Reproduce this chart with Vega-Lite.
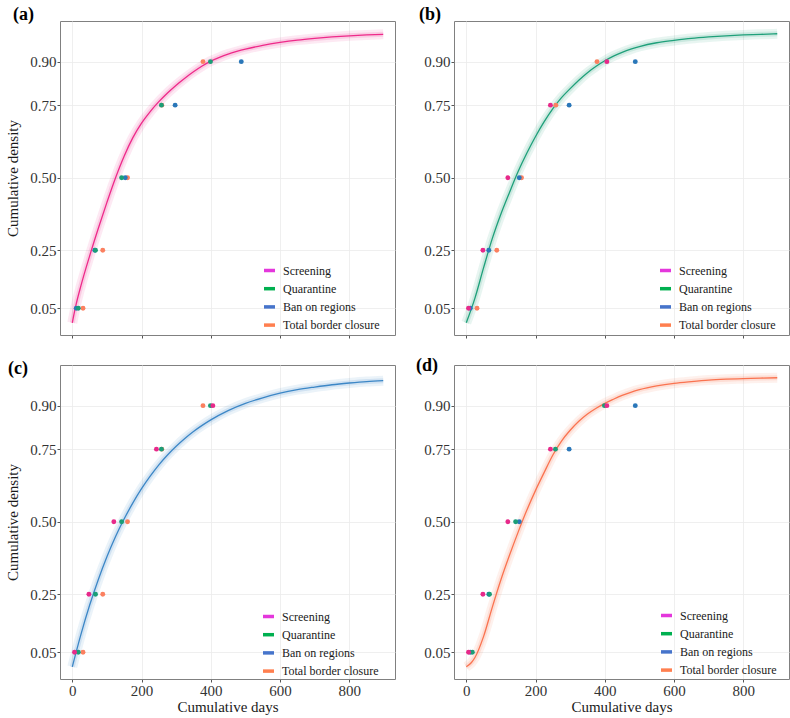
{
  "$schema": "https://vega.github.io/schema/vega-lite/v6.json",
  "background": "white",
  "padding": {"left": 5, "top": 5, "right": 5, "bottom": 1},
  "datasets": {
    "curves": [
      {"series": "Screening", "day": 0, "cdf": 0.0},
      {"series": "Screening", "day": 10, "cdf": 0.058},
      {"series": "Screening", "day": 25, "cdf": 0.128},
      {"series": "Screening", "day": 50, "cdf": 0.23},
      {"series": "Screening", "day": 75, "cdf": 0.325},
      {"series": "Screening", "day": 100, "cdf": 0.415},
      {"series": "Screening", "day": 125, "cdf": 0.5},
      {"series": "Screening", "day": 150, "cdf": 0.575},
      {"series": "Screening", "day": 175, "cdf": 0.638},
      {"series": "Screening", "day": 200, "cdf": 0.688},
      {"series": "Screening", "day": 225, "cdf": 0.728},
      {"series": "Screening", "day": 250, "cdf": 0.762},
      {"series": "Screening", "day": 275, "cdf": 0.792},
      {"series": "Screening", "day": 300, "cdf": 0.819},
      {"series": "Screening", "day": 325, "cdf": 0.843},
      {"series": "Screening", "day": 350, "cdf": 0.865},
      {"series": "Screening", "day": 375, "cdf": 0.885},
      {"series": "Screening", "day": 400, "cdf": 0.902},
      {"series": "Screening", "day": 425, "cdf": 0.915},
      {"series": "Screening", "day": 450, "cdf": 0.926},
      {"series": "Screening", "day": 475, "cdf": 0.935},
      {"series": "Screening", "day": 500, "cdf": 0.943},
      {"series": "Screening", "day": 550, "cdf": 0.956},
      {"series": "Screening", "day": 600, "cdf": 0.966},
      {"series": "Screening", "day": 650, "cdf": 0.974},
      {"series": "Screening", "day": 700, "cdf": 0.98},
      {"series": "Screening", "day": 750, "cdf": 0.985},
      {"series": "Screening", "day": 800, "cdf": 0.989},
      {"series": "Screening", "day": 850, "cdf": 0.992},
      {"series": "Screening", "day": 898, "cdf": 0.994},

      {"series": "Quarantine", "day": 0, "cdf": 0.0},
      {"series": "Quarantine", "day": 25, "cdf": 0.085},
      {"series": "Quarantine", "day": 50, "cdf": 0.19},
      {"series": "Quarantine", "day": 75, "cdf": 0.29},
      {"series": "Quarantine", "day": 100, "cdf": 0.375},
      {"series": "Quarantine", "day": 125, "cdf": 0.45},
      {"series": "Quarantine", "day": 150, "cdf": 0.522},
      {"series": "Quarantine", "day": 175, "cdf": 0.585},
      {"series": "Quarantine", "day": 200, "cdf": 0.642},
      {"series": "Quarantine", "day": 225, "cdf": 0.693},
      {"series": "Quarantine", "day": 250, "cdf": 0.738},
      {"series": "Quarantine", "day": 275, "cdf": 0.776},
      {"series": "Quarantine", "day": 300, "cdf": 0.807},
      {"series": "Quarantine", "day": 325, "cdf": 0.836},
      {"series": "Quarantine", "day": 350, "cdf": 0.862},
      {"series": "Quarantine", "day": 375, "cdf": 0.884},
      {"series": "Quarantine", "day": 400, "cdf": 0.903},
      {"series": "Quarantine", "day": 425, "cdf": 0.919},
      {"series": "Quarantine", "day": 450, "cdf": 0.932},
      {"series": "Quarantine", "day": 475, "cdf": 0.943},
      {"series": "Quarantine", "day": 500, "cdf": 0.952},
      {"series": "Quarantine", "day": 550, "cdf": 0.965},
      {"series": "Quarantine", "day": 600, "cdf": 0.973},
      {"series": "Quarantine", "day": 650, "cdf": 0.98},
      {"series": "Quarantine", "day": 700, "cdf": 0.985},
      {"series": "Quarantine", "day": 750, "cdf": 0.989},
      {"series": "Quarantine", "day": 800, "cdf": 0.992},
      {"series": "Quarantine", "day": 850, "cdf": 0.994},
      {"series": "Quarantine", "day": 898, "cdf": 0.996},

      {"series": "Ban on regions", "day": 0, "cdf": 0.0},
      {"series": "Ban on regions", "day": 25, "cdf": 0.112},
      {"series": "Ban on regions", "day": 50, "cdf": 0.212},
      {"series": "Ban on regions", "day": 75, "cdf": 0.3},
      {"series": "Ban on regions", "day": 100, "cdf": 0.379},
      {"series": "Ban on regions", "day": 125, "cdf": 0.449},
      {"series": "Ban on regions", "day": 150, "cdf": 0.51},
      {"series": "Ban on regions", "day": 175, "cdf": 0.565},
      {"series": "Ban on regions", "day": 200, "cdf": 0.614},
      {"series": "Ban on regions", "day": 225, "cdf": 0.657},
      {"series": "Ban on regions", "day": 250, "cdf": 0.696},
      {"series": "Ban on regions", "day": 275, "cdf": 0.73},
      {"series": "Ban on regions", "day": 300, "cdf": 0.76},
      {"series": "Ban on regions", "day": 325, "cdf": 0.787},
      {"series": "Ban on regions", "day": 350, "cdf": 0.811},
      {"series": "Ban on regions", "day": 375, "cdf": 0.832},
      {"series": "Ban on regions", "day": 400, "cdf": 0.851},
      {"series": "Ban on regions", "day": 450, "cdf": 0.883},
      {"series": "Ban on regions", "day": 500, "cdf": 0.908},
      {"series": "Ban on regions", "day": 550, "cdf": 0.927},
      {"series": "Ban on regions", "day": 600, "cdf": 0.943},
      {"series": "Ban on regions", "day": 650, "cdf": 0.955},
      {"series": "Ban on regions", "day": 700, "cdf": 0.964},
      {"series": "Ban on regions", "day": 750, "cdf": 0.972},
      {"series": "Ban on regions", "day": 800, "cdf": 0.978},
      {"series": "Ban on regions", "day": 850, "cdf": 0.983},
      {"series": "Ban on regions", "day": 898, "cdf": 0.986},

      {"series": "Total border closure", "day": 0, "cdf": 0.0},
      {"series": "Total border closure", "day": 15, "cdf": 0.015},
      {"series": "Total border closure", "day": 25, "cdf": 0.032},
      {"series": "Total border closure", "day": 50, "cdf": 0.105},
      {"series": "Total border closure", "day": 75, "cdf": 0.205},
      {"series": "Total border closure", "day": 100, "cdf": 0.3},
      {"series": "Total border closure", "day": 125, "cdf": 0.385},
      {"series": "Total border closure", "day": 150, "cdf": 0.465},
      {"series": "Total border closure", "day": 175, "cdf": 0.54},
      {"series": "Total border closure", "day": 200, "cdf": 0.608},
      {"series": "Total border closure", "day": 225, "cdf": 0.67},
      {"series": "Total border closure", "day": 250, "cdf": 0.73},
      {"series": "Total border closure", "day": 275, "cdf": 0.778},
      {"series": "Total border closure", "day": 300, "cdf": 0.815},
      {"series": "Total border closure", "day": 325, "cdf": 0.846},
      {"series": "Total border closure", "day": 350, "cdf": 0.871},
      {"series": "Total border closure", "day": 375, "cdf": 0.891},
      {"series": "Total border closure", "day": 400, "cdf": 0.908},
      {"series": "Total border closure", "day": 425, "cdf": 0.922},
      {"series": "Total border closure", "day": 450, "cdf": 0.935},
      {"series": "Total border closure", "day": 475, "cdf": 0.946},
      {"series": "Total border closure", "day": 500, "cdf": 0.955},
      {"series": "Total border closure", "day": 550, "cdf": 0.968},
      {"series": "Total border closure", "day": 600, "cdf": 0.977},
      {"series": "Total border closure", "day": 650, "cdf": 0.983},
      {"series": "Total border closure", "day": 700, "cdf": 0.988},
      {"series": "Total border closure", "day": 750, "cdf": 0.991},
      {"series": "Total border closure", "day": 800, "cdf": 0.993},
      {"series": "Total border closure", "day": 850, "cdf": 0.995},
      {"series": "Total border closure", "day": 898, "cdf": 0.996}
    ],
    "pts": [
      {"series": "Total border closure", "cdf": 0.05, "day": 31},
      {"series": "Total border closure", "cdf": 0.25, "day": 88},
      {"series": "Total border closure", "cdf": 0.5, "day": 159.5},
      {"series": "Total border closure", "cdf": 0.75, "day": 258.5},
      {"series": "Total border closure", "cdf": 0.9, "day": 377.5},
      {"series": "Ban on regions", "cdf": 0.05, "day": 11.5},
      {"series": "Ban on regions", "cdf": 0.25, "day": 65},
      {"series": "Ban on regions", "cdf": 0.5, "day": 153},
      {"series": "Ban on regions", "cdf": 0.75, "day": 297},
      {"series": "Ban on regions", "cdf": 0.9, "day": 488},
      {"series": "Quarantine", "cdf": 0.05, "day": 17.5},
      {"series": "Quarantine", "cdf": 0.25, "day": 67},
      {"series": "Quarantine", "cdf": 0.5, "day": 142.5},
      {"series": "Quarantine", "cdf": 0.75, "day": 257.5},
      {"series": "Quarantine", "cdf": 0.9, "day": 399},
      {"series": "Screening", "cdf": 0.05, "day": 6.5},
      {"series": "Screening", "cdf": 0.25, "day": 48},
      {"series": "Screening", "cdf": 0.5, "day": 120},
      {"series": "Screening", "cdf": 0.75, "day": 243},
      {"series": "Screening", "cdf": 0.9, "day": 406}
    ]
  },
  "columns": 2,
  "spacing": {"row": 30, "column": 59},
  "bounds": "flush",
  "resolve": {"scale": {"stroke": "independent"}},
  "concat": [
    {
      "width": 335, "height": 314,
      "title": {"text": "(a)", "dx": -47, "offset": -10},
      "layer": [
        {"data": {"name": "curves"}, "transform": [{"filter": "datum.series == 'Screening'"}],
         "mark": {"type": "line", "color": "#EE2A8A", "strokeWidth": 10, "opacity": 0.1, "interpolate": "monotone", "strokeCap": "butt"},
         "encoding": {
           "x": {"field": "day", "type": "quantitative", "scale": {"domain": [-35.5, 932], "nice": false, "zero": false}, "axis": {"values": [0, 200, 400, 600, 800], "labels": false, "title": null}},
           "y": {"field": "cdf", "type": "quantitative", "scale": {"domain": [-0.042, 1.04], "nice": false, "zero": false}, "axis": {"values": [0.05, 0.25, 0.5, 0.75, 0.9], "format": ".2f", "title": "Cumulative density"}}}},
        {"data": {"name": "curves"}, "transform": [{"filter": "datum.series == 'Screening'"}],
         "mark": {"type": "line", "color": "#EE2A8A", "strokeWidth": 5, "opacity": 0.15, "interpolate": "monotone", "strokeCap": "butt"},
         "encoding": {"x": {"field": "day", "type": "quantitative"}, "y": {"field": "cdf", "type": "quantitative"}}},
        {"data": {"name": "curves"}, "transform": [{"filter": "datum.series == 'Screening'"}],
         "mark": {"type": "line", "color": "#EE2A8A", "strokeWidth": 1.3, "interpolate": "monotone"},
         "encoding": {"x": {"field": "day", "type": "quantitative"}, "y": {"field": "cdf", "type": "quantitative"}}},
        {"data": {"name": "pts"}, "transform": [{"filter": "datum.series != 'Screening'"}],
         "mark": {"type": "circle", "size": 24, "opacity": 1},
         "encoding": {"x": {"field": "day", "type": "quantitative"}, "y": {"field": "cdf", "type": "quantitative"},
           "color": {"field": "series", "type": "nominal", "scale": {"domain": ["Screening", "Quarantine", "Ban on regions", "Total border closure"], "range": ["#E7298A", "#1B9E77", "#2A77B9", "#FB8060"]}, "legend": null}}},
        {"data": {"name": "pts"}, "transform": [{"filter": "datum.cdf > 2"}],
         "mark": {"type": "line"},
         "encoding": {"x": {"field": "day", "type": "quantitative"}, "y": {"field": "cdf", "type": "quantitative"},
           "stroke": {"field": "series", "type": "nominal", "scale": {"domain": ["Screening", "Quarantine", "Ban on regions", "Total border closure"], "range": ["#E437DC", "#00B050", "#4674CB", "#FF7F4F"]},
             "legend": {"title": null, "orient": "none", "legendX": 202, "legendY": 242, "labelFont": "Liberation Serif"}}}}
      ]
    },
    {
      "width": 335, "height": 314,
      "title": {"text": "(b)", "dx": -35, "offset": -10},
      "layer": [
        {"data": {"name": "curves"}, "transform": [{"filter": "datum.series == 'Quarantine'"}],
         "mark": {"type": "line", "color": "#1FA07A", "strokeWidth": 10, "opacity": 0.1, "interpolate": "monotone", "strokeCap": "butt"},
         "encoding": {
           "x": {"field": "day", "type": "quantitative", "scale": {"domain": [-35.5, 932], "nice": false, "zero": false}, "axis": {"values": [0, 200, 400, 600, 800], "labels": false, "title": null}},
           "y": {"field": "cdf", "type": "quantitative", "scale": {"domain": [-0.042, 1.04], "nice": false, "zero": false}, "axis": {"values": [0.05, 0.25, 0.5, 0.75, 0.9], "format": ".2f", "title": null}}}},
        {"data": {"name": "curves"}, "transform": [{"filter": "datum.series == 'Quarantine'"}],
         "mark": {"type": "line", "color": "#1FA07A", "strokeWidth": 5, "opacity": 0.15, "interpolate": "monotone", "strokeCap": "butt"},
         "encoding": {"x": {"field": "day", "type": "quantitative"}, "y": {"field": "cdf", "type": "quantitative"}}},
        {"data": {"name": "curves"}, "transform": [{"filter": "datum.series == 'Quarantine'"}],
         "mark": {"type": "line", "color": "#1FA07A", "strokeWidth": 1.3, "interpolate": "monotone"},
         "encoding": {"x": {"field": "day", "type": "quantitative"}, "y": {"field": "cdf", "type": "quantitative"}}},
        {"data": {"name": "pts"}, "transform": [{"filter": "datum.series != 'Quarantine'"}],
         "mark": {"type": "circle", "size": 24, "opacity": 1},
         "encoding": {"x": {"field": "day", "type": "quantitative"}, "y": {"field": "cdf", "type": "quantitative"},
           "color": {"field": "series", "type": "nominal", "scale": {"domain": ["Screening", "Quarantine", "Ban on regions", "Total border closure"], "range": ["#E7298A", "#1B9E77", "#2A77B9", "#FB8060"]}, "legend": null}}},
        {"data": {"name": "pts"}, "transform": [{"filter": "datum.cdf > 2"}],
         "mark": {"type": "line"},
         "encoding": {"x": {"field": "day", "type": "quantitative"}, "y": {"field": "cdf", "type": "quantitative"},
           "stroke": {"field": "series", "type": "nominal", "scale": {"domain": ["Screening", "Quarantine", "Ban on regions", "Total border closure"], "range": ["#E437DC", "#00B050", "#4674CB", "#FF7F4F"]},
             "legend": {"title": null, "orient": "none", "legendX": 204, "legendY": 242, "labelFont": "Liberation Serif"}}}}
      ]
    },
    {
      "width": 335, "height": 314,
      "title": {"text": "(c)", "dx": -52, "offset": -17},
      "layer": [
        {"data": {"name": "curves"}, "transform": [{"filter": "datum.series == 'Ban on regions'"}],
         "mark": {"type": "line", "color": "#3C87C6", "strokeWidth": 10, "opacity": 0.1, "interpolate": "monotone", "strokeCap": "butt"},
         "encoding": {
           "x": {"field": "day", "type": "quantitative", "scale": {"domain": [-35.5, 932], "nice": false, "zero": false}, "axis": {"values": [0, 200, 400, 600, 800], "title": "Cumulative days", "titlePadding": 1}},
           "y": {"field": "cdf", "type": "quantitative", "scale": {"domain": [-0.042, 1.04], "nice": false, "zero": false}, "axis": {"values": [0.05, 0.25, 0.5, 0.75, 0.9], "format": ".2f", "title": "Cumulative density"}}}},
        {"data": {"name": "curves"}, "transform": [{"filter": "datum.series == 'Ban on regions'"}],
         "mark": {"type": "line", "color": "#3C87C6", "strokeWidth": 5, "opacity": 0.15, "interpolate": "monotone", "strokeCap": "butt"},
         "encoding": {"x": {"field": "day", "type": "quantitative"}, "y": {"field": "cdf", "type": "quantitative"}}},
        {"data": {"name": "curves"}, "transform": [{"filter": "datum.series == 'Ban on regions'"}],
         "mark": {"type": "line", "color": "#3C87C6", "strokeWidth": 1.3, "interpolate": "monotone"},
         "encoding": {"x": {"field": "day", "type": "quantitative"}, "y": {"field": "cdf", "type": "quantitative"}}},
        {"data": {"name": "pts"}, "transform": [{"filter": "datum.series != 'Ban on regions'"}],
         "mark": {"type": "circle", "size": 24, "opacity": 1},
         "encoding": {"x": {"field": "day", "type": "quantitative"}, "y": {"field": "cdf", "type": "quantitative"},
           "color": {"field": "series", "type": "nominal", "scale": {"domain": ["Screening", "Quarantine", "Ban on regions", "Total border closure"], "range": ["#E7298A", "#1B9E77", "#2A77B9", "#FB8060"]}, "legend": null}}},
        {"data": {"name": "pts"}, "transform": [{"filter": "datum.cdf > 2"}],
         "mark": {"type": "line"},
         "encoding": {"x": {"field": "day", "type": "quantitative"}, "y": {"field": "cdf", "type": "quantitative"},
           "stroke": {"field": "series", "type": "nominal", "scale": {"domain": ["Screening", "Quarantine", "Ban on regions", "Total border closure"], "range": ["#E437DC", "#00B050", "#4674CB", "#FF7F4F"]},
             "legend": {"title": null, "orient": "none", "legendX": 201, "legendY": 244, "labelFont": "Liberation Serif"}}}}
      ]
    },
    {
      "width": 335, "height": 314,
      "title": {"text": "(d)", "dx": -38, "offset": -17},
      "layer": [
        {"data": {"name": "curves"}, "transform": [{"filter": "datum.series == 'Total border closure'"}],
         "mark": {"type": "line", "color": "#FA7350", "strokeWidth": 10, "opacity": 0.1, "interpolate": "monotone", "strokeCap": "butt"},
         "encoding": {
           "x": {"field": "day", "type": "quantitative", "scale": {"domain": [-35.5, 932], "nice": false, "zero": false}, "axis": {"values": [0, 200, 400, 600, 800], "title": "Cumulative days", "titlePadding": 1}},
           "y": {"field": "cdf", "type": "quantitative", "scale": {"domain": [-0.042, 1.04], "nice": false, "zero": false}, "axis": {"values": [0.05, 0.25, 0.5, 0.75, 0.9], "format": ".2f", "title": null}}}},
        {"data": {"name": "curves"}, "transform": [{"filter": "datum.series == 'Total border closure'"}],
         "mark": {"type": "line", "color": "#FA7350", "strokeWidth": 5, "opacity": 0.15, "interpolate": "monotone", "strokeCap": "butt"},
         "encoding": {"x": {"field": "day", "type": "quantitative"}, "y": {"field": "cdf", "type": "quantitative"}}},
        {"data": {"name": "curves"}, "transform": [{"filter": "datum.series == 'Total border closure'"}],
         "mark": {"type": "line", "color": "#FA7350", "strokeWidth": 1.3, "interpolate": "monotone"},
         "encoding": {"x": {"field": "day", "type": "quantitative"}, "y": {"field": "cdf", "type": "quantitative"}}},
        {"data": {"name": "pts"}, "transform": [{"filter": "datum.series != 'Total border closure'"}],
         "mark": {"type": "circle", "size": 24, "opacity": 1},
         "encoding": {"x": {"field": "day", "type": "quantitative"}, "y": {"field": "cdf", "type": "quantitative"},
           "color": {"field": "series", "type": "nominal", "scale": {"domain": ["Screening", "Quarantine", "Ban on regions", "Total border closure"], "range": ["#E7298A", "#1B9E77", "#2A77B9", "#FB8060"]}, "legend": null}}},
        {"data": {"name": "pts"}, "transform": [{"filter": "datum.cdf > 2"}],
         "mark": {"type": "line"},
         "encoding": {"x": {"field": "day", "type": "quantitative"}, "y": {"field": "cdf", "type": "quantitative"},
           "stroke": {"field": "series", "type": "nominal", "scale": {"domain": ["Screening", "Quarantine", "Ban on regions", "Total border closure"], "range": ["#E437DC", "#00B050", "#4674CB", "#FF7F4F"]},
             "legend": {"title": null, "orient": "none", "legendX": 205, "legendY": 243, "labelFont": "Liberation Serif"}}}}
      ]
    }
  ],
  "config": {
    "font": "Liberation Serif",
    "view": {"stroke": "#808080", "strokeWidth": 1},
    "axis": {
      "labelFont": "Liberation Serif", "labelFontSize": 15, "labelColor": "#333333",
      "titleFont": "Liberation Serif", "titleFontSize": 15, "titleFontWeight": "normal", "titleColor": "#1a1a1a",
      "domain": false, "ticks": true, "tickColor": "#555555", "tickSize": 3, "labelPadding": 1,
      "grid": true, "gridColor": "#EBEBEB", "gridWidth": 0.8, "titlePadding": 9
    },
    "legend": {
      "symbolType": "stroke", "symbolStrokeWidth": 3.5, "symbolSize": 121,
      "labelFont": "Liberation Serif", "labelFontSize": 12, "labelColor": "#1a1a1a",
      "rowPadding": 3.2, "labelOffset": 6, "padding": 0, "labelLimit": 300
    },
    "title": {"font": "Liberation Serif", "fontSize": 18, "fontWeight": "bold", "anchor": "start", "frame": "group", "color": "#000000"}
  }
}
